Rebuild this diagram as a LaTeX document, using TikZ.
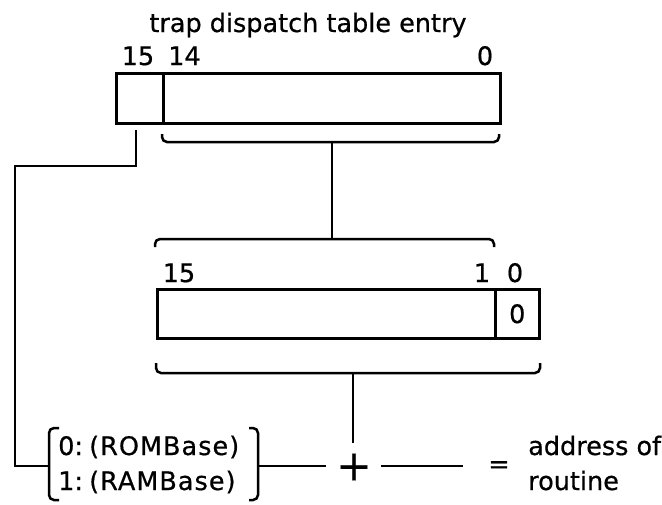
\documentclass[tikz,border=0pt]{standalone}
\usepackage{fontspec}
\setmainfont[FakeBold=0.6]{DejaVu Sans}
\newfontfamily\diagfont[FakeBold=0.6]{DejaVu Sans}
\newfontfamily\widefont[FakeBold=0.6,LetterSpace=4]{DejaVu Sans}
\begin{document}
\begin{tikzpicture}[x=1pt,y=-1pt,line width=2.5pt,line cap=butt,
  lbl/.style={font=\diagfont\fontsize{25.5}{30}\selectfont,inner sep=0pt,anchor=base},
  lblw/.style={lbl,anchor=base west},
  sellbl/.style={lblw,font=\widefont\fontsize{25.5}{30}\selectfont},
  field/.style={draw,inner sep=0pt,anchor=north west,font=\diagfont\fontsize{25.5}{30}\selectfont},
  bracepath/.style={rounded corners=5pt},
  wire/.style={line width=2.5pt}]
\useasboundingbox[fill=white] (0,0) rectangle (662,504);

% title and bit numbers
\node[lbl] (title) at (308,32) {trap dispatch table entry};
\node[lbl] (t15) at (138,65) {15};
\node[lbl] (t14) at (184.5,65) {14};
\node[lbl] (t0) at (485,65) {0};

% top entry
\node[field,minimum width=47pt,minimum height=50pt] (b15) at (115,72) {};
\node[field,minimum width=337pt,minimum height=50pt] (b14) at (162,72) {};

% brace under bits 14..0
\coordinate (tbL) at (162,134);
\coordinate (tbR) at (499,134);
\coordinate (tbTip) at (332,142);
\draw[bracepath] (tbL) -- (162,142) -- (499,142) -- (tbR);

% brace over bits 15..1
\coordinate (mbL) at (155,247);
\coordinate (mbR) at (494,247);
\coordinate (mbTip) at (332,239);
\draw[bracepath] (mbL) -- (155,239) -- (494,239) -- (mbR);
\draw[wire] (tbTip) -- (mbTip);

% middle word
\node[lbl] (m15l) at (179,282) {15};
\node[lbl] (m1l) at (482,282) {1};
\node[lbl] (m0l) at (515,282) {0};
\node[field,minimum width=338pt,minimum height=49pt] (m15) at (156,288) {};
\node[field,minimum width=44pt,minimum height=49pt] (m0) at (494,288) {0};

% brace under middle word
\coordinate (bbL) at (156,363);
\coordinate (bbR) at (540,363);
\coordinate (bbTip) at (353,373);
\draw[bracepath] (bbL) -- (156,373) -- (540,373) -- (bbR);

% base selector
\coordinate (selL) at (49,466);
\coordinate (selR) at (258,466);
\draw[bracepath] (59,428) -- (49,428) -- (49,500) -- (59,500);
\draw[bracepath] (249,428) -- (258,428) -- (258,500) -- (249,500);
\node[lblw] (s0) at (57,455) {0:};
\node[sellbl] (s0t) at (88,455) {(ROMBase)};
\node[lblw] (s1) at (57,490) {1:};
\node[sellbl] (s1t) at (88,490) {(RAMBase)};

% bit 15 wire to selector
\coordinate (b15foot) at (136,130);
\draw[wire] (b15foot) -- (136,166) -- (15,166) -- (15,466) -- (selL);

% sum
\node[font=\diagfont\fontsize{42}{46}\selectfont,inner sep=0pt] (plus) at (354,467) {+};
\coordinate (plusTop) at (353,443);
\coordinate (plusL) at (326,466);
\coordinate (plusR) at (381,466);
\coordinate (eqL) at (463,466);
\draw[wire] (bbTip) -- (plusTop);
\draw[wire] (selR) -- (plusL);
\draw[wire] (plusR) -- (eqL);
\node[font=\diagfont\fontsize{25.5}{30}\selectfont,inner sep=0pt] (eq) at (499,467) {=};
\node[lblw] (addr) at (527,455) {address of};
\node[lblw] (rout) at (527,490) {routine};
\end{tikzpicture}
\end{document}
